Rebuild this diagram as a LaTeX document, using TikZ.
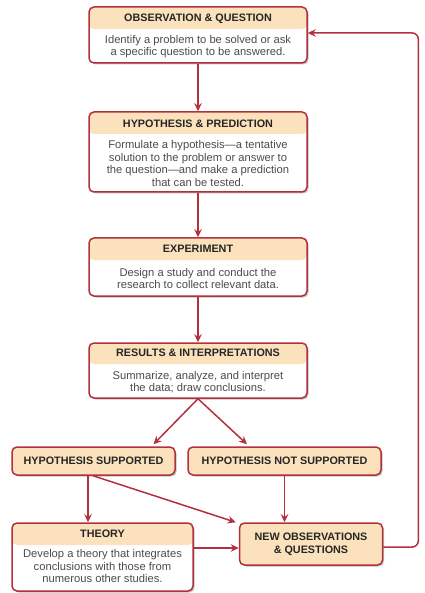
\documentclass[tikz,border=0pt]{standalone}
\usepackage{fontspec}
\setmainfont{Liberation Sans}
\usetikzlibrary{arrows.meta,shadows}
\definecolor{boxred}{HTML}{B3303E}
\definecolor{cream}{HTML}{FBE2BC}
\tikzset{>={Stealth[length=8pt,width=7.5pt]}}

\begin{document}
\begin{tikzpicture}
    [
      x=1pt, y=-1pt,
      box/.style={draw=boxred, line width=1.5pt, rounded corners=5pt, fill=white, inner sep=0pt,
        drop shadow={shadow xshift=1.5pt, shadow yshift=-1.5pt, opacity=0.4, fill=black!60}},
      head/.style={path picture={\fill[cream] (path picture bounding box.north west) rectangle ([yshift=-#1pt]path picture bounding box.north east);}},
      full/.style={box, fill=cream},
      title/.style={font=\bfseries\fontsize{10.8}{13}\selectfont, text=black!85, align=center},
      body/.style={font=\fontsize{11.2}{12.5}\selectfont, align=center, text=black!70},
      arr/.style={->, draw=boxred, line width=1.5pt}
    ]
    \useasboundingbox (0,0) rectangle (424,593);

    \node (obs) [box, head=22, minimum width=218, minimum height=56] at (198,35) {};
    \node (obs-t) [title] at (198,18.5) {OBSERVATION \& QUESTION};
    \node (obs-b) [body] at (198,46.5) {Identify a problem to be solved or ask\\a specific question to be answered.};

    \node (hyp) [box, head=22, minimum width=218, minimum height=80] at (198,152) {};
    \node (hyp-t) [title] at (198,123.5) {HYPOTHESIS \& PREDICTION};
    \node (hyp-b) [body] at (198,163.5) {Formulate a hypothesis---a tentative\\solution to the problem or answer to\\the question---and make a prediction\\that can be tested.};

    \node (exp) [box, head=22, minimum width=218, minimum height=58] at (198,267) {};
    \node (exp-t) [title] at (198,249) {EXPERIMENT};
    \node (exp-b) [body] at (198,278.5) {Design a study and conduct the\\research to collect relevant data.};

    \node (res) [box, head=21, minimum width=218, minimum height=55] at (198,370.5) {};
    \node (res-t) [title] at (198,353) {RESULTS \& INTERPRETATIONS};
    \node (res-b) [body] at (198,382) {Summarize, analyze, and interpret\\the data; draw conclusions.};

    \node (sup) [full, minimum width=163, minimum height=28] at (93.5,461) {};
    \node (sup-t) [title] at (93.5,461) {HYPOTHESIS SUPPORTED};

    \node (nsup) [full, minimum width=193, minimum height=28] at (284.5,461) {};
    \node (nsup-t) [title] at (284.5,461) {HYPOTHESIS NOT SUPPORTED};

    \node (theory) [box, head=22, minimum width=181, minimum height=68] at (102.5,557) {};
    \node (theory-t) [title] at (102.5,534) {THEORY};
    \node (theory-b) [body] at (102.5,566) {Develop a theory that integrates\\conclusions with those from\\numerous other studies.};

    \node (new) [full, minimum width=143, minimum height=42] at (311,544) {};
    \node (new-t) [title] at (311,544) {NEW OBSERVATIONS\\\& QUESTIONS};

    \draw [arr] (obs) -- (hyp);
    \draw [arr] (hyp) -- (exp);
    \draw [arr] (exp) -- (res);
    \draw [arr] (res.south) -- ([xshift=60pt, yshift=2pt]sup.north);
    \draw [arr] (res.south) -- ([xshift=-37.5pt, yshift=2pt]nsup.north);

    \draw [arr] ([xshift=-5.5pt]sup.south) -- ([xshift=-5.5pt]sup.south |- theory.north);
    \draw [arr] ([xshift=-0.5pt]sup.south) -- ([xshift=-3pt]new.north west);
    \draw [arr] (nsup.south) -- (nsup.south |- new.north);
    \coordinate (new-in) at ([yshift=-4pt]new.west);
    \draw [arr] (theory.east |- new-in) -- (new-in);

    \draw [arr, rounded corners=6pt] ([yshift=-3pt]new.east) -- ++(35,0) |- ([yshift=2pt]obs.east);
\end{tikzpicture}
\end{document}
